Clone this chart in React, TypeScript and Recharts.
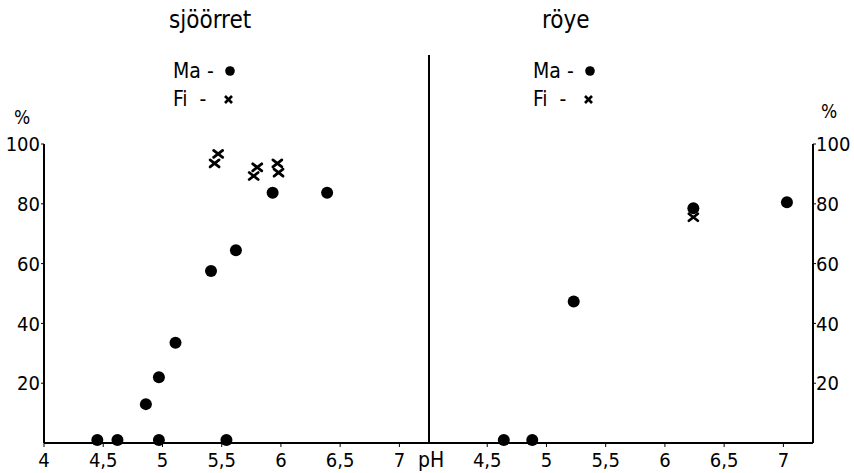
import React from "react";
import { ScatterChart, Scatter, XAxis, YAxis } from "recharts";

// sjöörret
const trMaPh = [4.45, 4.62, 4.97, 5.54, 4.86, 4.97, 5.11, 5.41, 5.62, 5.93, 6.39];
const trMaPct = [1, 1, 1, 1, 13, 22, 33.5, 57.5, 64.5, 83.7, 83.7];
const trFiPh = [5.44, 5.47, 5.77, 5.8, 5.97, 5.98];
const trFiPct = [93.5, 96.7, 89.3, 92.2, 93.5, 90.4];

// røye
const roMaPh = [4.64, 4.88, 5.23, 6.24, 7.03];
const roMaPct = [1, 1, 47.3, 78.5, 80.5];
const roFiPh = [6.24];
const roFiPct = [75.5];

const phTicksLeft = [4, 4.5, 5, 5.5, 6, 6.5, 7];
const phTicksRight = [4.5, 5, 5.5, 6, 6.5, 7];
const pctTicks = [20, 40, 60, 80, 100];

const zip = (xs: number[], ys: number[]) => xs.map((ph, i) => ({ ph, pct: ys[i] }));

const FONT = "'DejaVu Sans Condensed', 'Liberation Sans Narrow', 'DejaVu Sans', sans-serif";
const fmt = (v: number) => String(v).replace(".", ",");
const tickStyle = { fill: "#000", fontSize: 20, fontFamily: FONT };

const Dot = (p: any) => <circle cx={p.cx} cy={p.cy} r={6} fill="#000" />;
const Cross = (p: any) => (
  <g stroke="#000" strokeWidth={2.8} strokeLinecap="round">
    <line x1={p.cx - 4.5} y1={p.cy - 3.5} x2={p.cx + 4.5} y2={p.cy + 3.5} />
    <line x1={p.cx - 4.5} y1={p.cy + 3.5} x2={p.cx + 4.5} y2={p.cy - 3.5} />
  </g>
);

const txt: React.CSSProperties = { position: "absolute", fontFamily: FONT, color: "#000", lineHeight: 1, whiteSpace: "nowrap" };

function Legend({ left, top }: { left: number; top: number }) {
  return (
    <>
      <div style={{ ...txt, left, top, fontSize: 21 }}>Ma -</div>
      <svg width={14} height={14} style={{ position: "absolute", left: left + 50, top: top + 3 }}>
        <circle cx={7} cy={7} r={4.8} fill="#000" />
      </svg>
      <div style={{ ...txt, left, top: top + 28, fontSize: 21 }}>Fi&nbsp;&nbsp;-</div>
      <svg width={14} height={14} style={{ position: "absolute", left: left + 49, top: top + 31 }}>
        <g stroke="#000" strokeWidth={2.6}>
          <line x1={3} y1={4} x2={10} y2={11} />
          <line x1={3} y1={11} x2={10} y2={4} />
        </g>
      </svg>
    </>
  );
}

export default function App() {
  return (
    <div style={{ position: "absolute", left: 0, top: 0, width: 854, height: 473, background: "#fff" }}>
      <div style={{ position: "absolute", left: 0, top: 0 }}>
        <ScatterChart width={440} height={473} margin={{ top: 144, right: 11, bottom: 0, left: 0 }}>
          <XAxis
            type="number"
            dataKey="ph"
            domain={[4, 7.25]}
            ticks={phTicksLeft}
            tickFormatter={fmt}
            height={30}
            tick={tickStyle}
            tickSize={4}
            tickMargin={6}
            stroke="#000"
            axisLine={{ stroke: "#000", strokeWidth: 2 }}
            allowDataOverflow
          />
          <YAxis
            type="number"
            dataKey="pct"
            domain={[0, 100]}
            ticks={pctTicks}
            width={44}
            tick={tickStyle}
            tickSize={3}
            tickMargin={1}
            stroke="#000"
            axisLine={{ stroke: "#000", strokeWidth: 2 }}
          />
          <Scatter data={zip(trMaPh, trMaPct)} shape={Dot} isAnimationActive={false} />
          <Scatter data={zip(trFiPh, trFiPct)} shape={Cross} isAnimationActive={false} />
        </ScatterChart>
      </div>
      <div style={{ position: "absolute", left: 428, top: 0 }}>
        <ScatterChart width={426} height={473} margin={{ top: 144, right: 0, bottom: 0, left: 0 }}>
          <XAxis
            type="number"
            dataKey="ph"
            domain={[4, 7.25]}
            ticks={phTicksRight}
            tickFormatter={fmt}
            height={30}
            tick={tickStyle}
            tickSize={4}
            tickMargin={6}
            stroke="#000"
            axisLine={{ stroke: "#000", strokeWidth: 2 }}
            allowDataOverflow
          />
          <YAxis
            type="number"
            dataKey="pct"
            orientation="right"
            domain={[0, 100]}
            ticks={pctTicks}
            width={41}
            tick={tickStyle}
            tickSize={3}
            tickMargin={0}
            stroke="#000"
            axisLine={{ stroke: "#000", strokeWidth: 2 }}
          />
          <Scatter data={zip(roMaPh, roMaPct)} shape={Dot} isAnimationActive={false} />
          <Scatter data={zip(roFiPh, roFiPct)} shape={Cross} isAnimationActive={false} />
        </ScatterChart>
      </div>
      {/* divider between the two panels */}
      <div style={{ position: "absolute", left: 428, top: 55, width: 2, height: 388, background: "#000" }} />
      <div style={{ ...txt, left: 169, top: 8, fontSize: 24 }}>sjöörret</div>
      <div style={{ ...txt, left: 542, top: 8, fontSize: 24 }}>röye</div>
      <Legend left={173} top={61} />
      <Legend left={533} top={61} />
      <div style={{ ...txt, left: 14, top: 108, fontSize: 19 }}>%</div>
      <div style={{ ...txt, left: 821, top: 102, fontSize: 19 }}>%</div>
      <div style={{ ...txt, left: 418, top: 450, fontSize: 21 }}>pH</div>
    </div>
  );
}
